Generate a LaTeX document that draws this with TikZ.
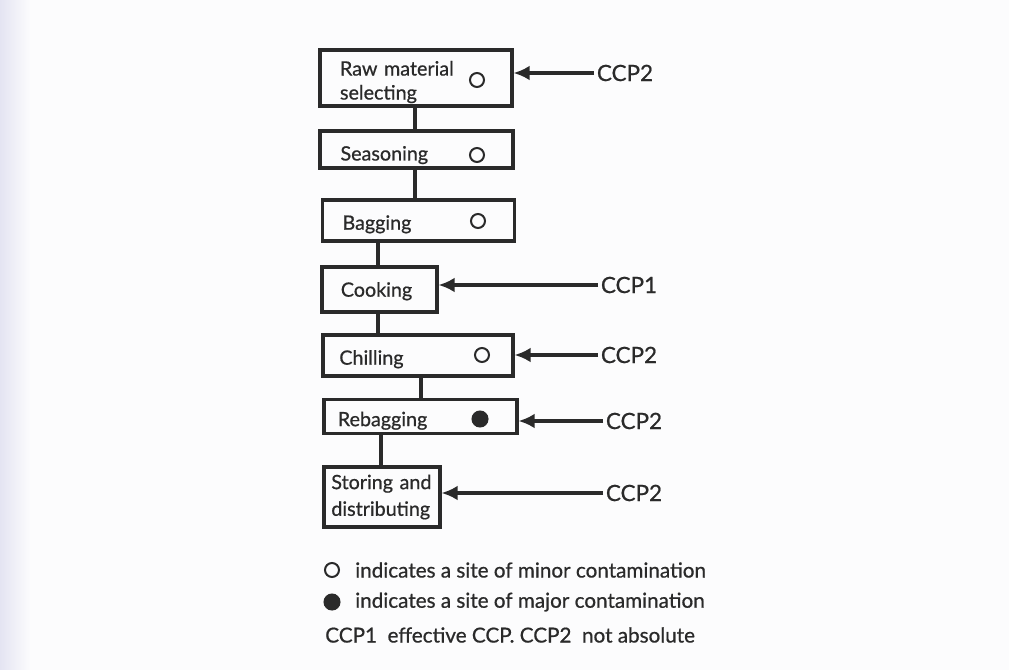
\documentclass[tikz,border=0pt]{standalone}
\usepackage{fontspec}
\setmainfont{Lato}[FakeBold=0.7]
\usetikzlibrary{arrows.meta}
\definecolor{ink}{HTML}{2A2A2A}
\definecolor{paper}{HTML}{FCFCFD}
\definecolor{band}{HTML}{E4E4F2}
\tikzset{
  stepbox/.style={draw=ink, line width=2.3pt, rectangle, align=left, font=\fontsize{14.8}{18}\selectfont, text=ink, inner ysep=0pt},
  oneline/.style={text depth=0pt, text height=#1},
  site/.style={circle, draw=ink, line width=1.5pt, minimum size=10.5pt, inner sep=0pt},
  majorsite/.style={circle, fill=ink, draw=ink, line width=0.8pt, minimum size=12pt, inner sep=0pt},
  ccp/.style={anchor=west, inner sep=2pt, font=\fontsize{16.8}{18}\selectfont, text=ink},
  link/.style={draw=ink, line width=2.3pt},
  pointer/.style={draw=ink, line width=2.3pt, -{Latex[length=12pt,width=11pt]}},
  legend/.style={anchor=west, inner sep=0pt, font=\fontsize{15.5}{18}\selectfont, text=ink}
}
\begin{document}
\begin{tikzpicture}[x=0.75pt,y=-0.75pt]
\useasboundingbox (0,0) rectangle (1009,670);
\fill[paper] (0,0) rectangle (1009,670);
\shade[left color=band, right color=paper] (0,0) rectangle (30,670);

% boxes
\node[stepbox, minimum width=144pt, minimum height=42pt, text width=114pt, inner xsep=15pt] (raw) at (416,78) {\rule{0pt}{17pt}Raw material\\selecting};
\node[stepbox, minimum width=144.75pt, minimum height=27.75pt, text width=114pt, inner xsep=15pt, oneline=16.5pt] (seas) at (416.5,149.5) {Seasoning};
\node[stepbox, minimum width=143.25pt, minimum height=30.75pt, text width=114pt, inner xsep=15pt, oneline=13.8pt] (bag) at (418.5,220.5) {Bagging};
\node[stepbox, minimum width=86.25pt, minimum height=33.75pt, text width=58pt, inner xsep=14pt, oneline=10.8pt] (cook) at (379.5,289.5) {Cooking};
\node[stepbox, minimum width=142.5pt, minimum height=30.75pt, text width=118pt, inner xsep=11pt, oneline=13.8pt] (chill) at (418,355.5) {Chilling};
\node[stepbox, minimum width=144.75pt, minimum height=26pt, text width=124pt, inner xsep=9pt, oneline=14.5pt] (reb) at (420.5,416.5) {Rebagging};
\node[stepbox, minimum width=87pt, minimum height=45pt, text width=76pt, inner xsep=5.5pt] (stor) at (382,497) {Storing and\\[2pt]distributing};

% contamination sites
\node[site] (s1) at (477,80) {};
\node[site] (s2) at (477,155) {};
\node[site] (s3) at (478,221) {};
\node[site] (s4) at (482,355) {};
\node[majorsite] (s5) at (480,419) {};

% links between steps
\coordinate (xa) at (415,0);
\coordinate (xb) at (378,0);
\coordinate (xc) at (421,0);
\coordinate (xd) at (381,0);
\path[link] (raw.south -| xa) -- (seas.north -| xa);
\path[link] (seas.south -| xa) -- (bag.north -| xa);
\path[link] (bag.south -| xb) -- (cook.north -| xb);
\path[link] (cook.south -| xb) -- (chill.north -| xb);
\path[link] (chill.south -| xc) -- (reb.north -| xc);
\path[link] (reb.south -| xd) -- (stor.north -| xd);

% CCP labels and arrows
\node[ccp] (c1) at (594,73) {CCP2};
\node[ccp] (c2) at (598,285) {CCP1};
\node[ccp] (c3) at (598,355) {CCP2};
\node[ccp] (c4) at (603,421) {CCP2};
\node[ccp] (c5) at (603,493) {CCP2};
\path[pointer] (c1.west) -- (c1.west -| raw.east);
\path[pointer] (c2.west) -- (c2.west -| cook.east);
\path[pointer] (c3.west) -- (c3.west -| chill.east);
\path[pointer] (c4.west) -- (c4.west -| reb.east);
\path[pointer] (c5.west) -- (c5.west -| stor.east);

% legend
\node[site] (k1) at (332,570) {};
\node[legend] (t1) at (355,570) {indicates a site of minor contamination};
\node[majorsite] (k2) at (332,602) {};
\node[legend] (t2) at (355,602) {indicates a site of major contamination};
\node[legend] (t3) at (325,635) {CCP1\ \ effective CCP. CCP2\ \ not absolute};
\end{tikzpicture}
\end{document}
